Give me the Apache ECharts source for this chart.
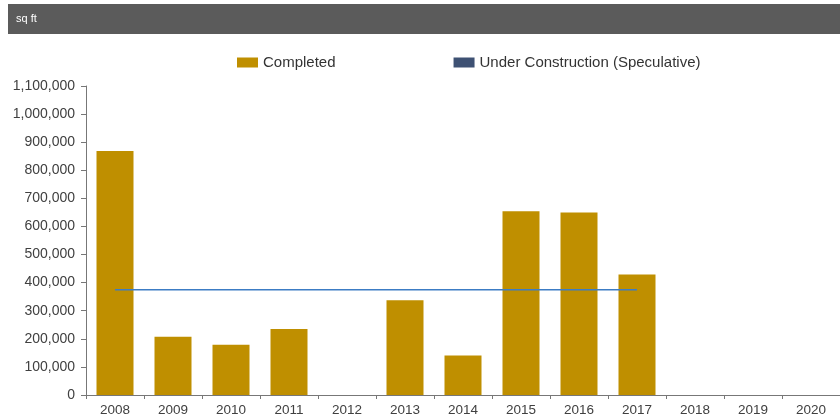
<!DOCTYPE html>
<html>
<head>
<meta charset="utf-8">
<script src="https://cdn.jsdelivr.net/npm/echarts@6/dist/echarts.min.js"></script>
<style>
html, body { margin: 0; padding: 0; background: #fff; }
#main { width: 840px; height: 419px; }
</style>
</head>
<body>
<div id="main"></div>
<script>
var years = ['2008', '2009', '2010', '2011', '2012', '2013', '2014', '2015', '2016', '2017', '2018', '2019', '2020'];
var completed = [869000, 207000, 179000, 235000, 0, 337000, 141000, 654000, 650000, 429000, 0, 0, 0];
var underConstruction = [375000, 375000, 375000, 375000, 375000, 375000, 375000, 375000, 375000, 375000, null, null, null];

var font = '"Liberation Sans", Arial, sans-serif';

var dom = document.getElementById('main');
var myChart = echarts.init(dom);
var option = {
	animation: false,
	textStyle: { fontFamily: font },
	graphic: [
		{
			type: 'rect',
			shape: { x: 8, y: 4, width: 840, height: 30 },
			style: { fill: '#5b5b5b' }
		},
		{
			type: 'text',
			x: 16, y: 13,
			style: { text: 'sq ft', fill: '#ffffff', font: '11px ' + font }
		}
	],
	legend: {
		left: 237,
		top: 55,
		padding: 0,
		itemGap: 118,
		itemWidth: 21,
		itemHeight: 10,
		textStyle: { fontSize: 15, color: '#333', fontFamily: font },
		data: [
			{ name: 'Completed', icon: 'rect' },
			{ name: 'Under Construction (Speculative)', icon: 'rect', itemStyle: { color: '#3e5173' } }
		]
	},
	grid: { left: 86, top: 86, width: 762, height: 309 },
	xAxis: {
		type: 'category',
		data: years,
		axisLine: { lineStyle: { color: '#777' } },
		axisTick: { show: true, length: 4, lineStyle: { color: '#777' } },
		axisLabel: { color: '#404040', fontSize: 13.5, margin: 8 }
	},
	yAxis: {
		type: 'value',
		min: 0,
		max: 1100000,
		interval: 100000,
		splitLine: { show: false },
		axisLine: { show: true, lineStyle: { color: '#777' } },
		axisTick: { show: true, length: 5, lineStyle: { color: '#777' } },
		axisLabel: {
			color: '#404040', fontSize: 14, margin: 11,
			formatter: function (v) { return v.toLocaleString('en-US'); }
		}
	},
	series: [
		{
			name: 'Completed',
			type: 'bar',
			barWidth: 37,
			itemStyle: { color: '#bf8f00' },
			data: completed
		},
		{
			name: 'Under Construction (Speculative)',
			type: 'line',
			symbol: 'none',
			lineStyle: { color: '#3c7cc4', width: 1.5 },
			itemStyle: { color: '#3e5173' },
			data: underConstruction
		}
	]
};
myChart.setOption(option, true);
</script>
</body>
</html>
